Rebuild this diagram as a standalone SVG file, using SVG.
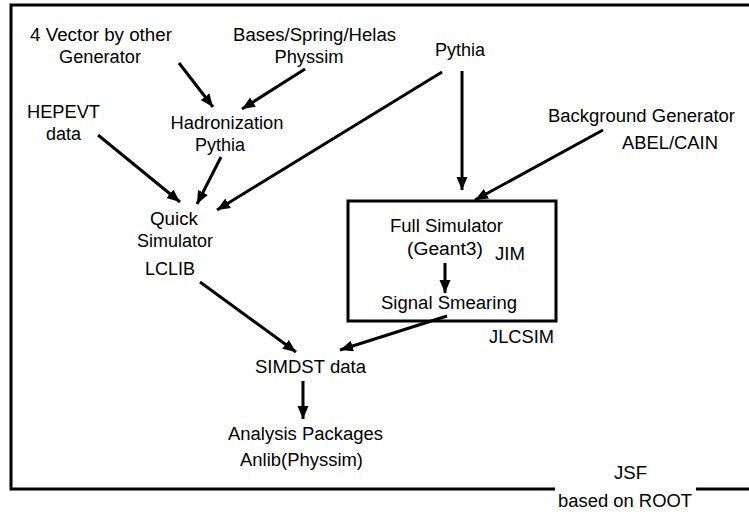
<svg xmlns="http://www.w3.org/2000/svg" width="749" height="512" viewBox="0 0 749 512">
<defs>
<style>
text{font-family:"Liberation Sans",Arial,sans-serif;font-size:18px;fill:#000;text-anchor:middle}
.frame{fill:none;stroke:#000;stroke-width:3}
.c line{stroke:#000;stroke-width:3}
</style>
<marker id="ah" markerUnits="userSpaceOnUse" markerWidth="14" markerHeight="12" refX="13" refY="5.5" orient="auto">
<path d="M0,0 L13,5.5 L0,11 z" fill="#000"/>
</marker>
</defs>
<rect width="749" height="512" fill="#fff"/>
<g id="jsf">
<path class="frame" d="M555,489 L11,489 L11,5 L752,5 M696,489 L752,489"/>
<text x="630.5" y="479" textLength="33" lengthAdjust="spacingAndGlyphs">JSF</text>
<text x="625" y="507" textLength="134" lengthAdjust="spacingAndGlyphs">based on ROOT</text>
</g>
<g id="jlcsim">
<rect class="frame" x="348" y="201" width="208" height="120"/>
<text x="521.5" y="343" textLength="65" lengthAdjust="spacingAndGlyphs">JLCSIM</text>
</g>
<g id="vector4">
<text x="101" y="41" textLength="142" lengthAdjust="spacingAndGlyphs">4 Vector by other</text>
<text x="100" y="63" textLength="82" lengthAdjust="spacingAndGlyphs">Generator</text>
</g>
<g id="bases">
<text x="314.5" y="41" textLength="163" lengthAdjust="spacingAndGlyphs">Bases/Spring/Helas</text>
<text x="309" y="63" textLength="69" lengthAdjust="spacingAndGlyphs">Physsim</text>
</g>
<g id="pythia">
<text x="460" y="56" textLength="50" lengthAdjust="spacingAndGlyphs">Pythia</text>
</g>
<g id="hepevt">
<text x="63.5" y="118" textLength="73" lengthAdjust="spacingAndGlyphs">HEPEVT</text>
<text x="63.5" y="140" textLength="35" lengthAdjust="spacingAndGlyphs">data</text>
</g>
<g id="hadronization">
<text x="227" y="129" textLength="113" lengthAdjust="spacingAndGlyphs">Hadronization</text>
<text x="220" y="151" textLength="50" lengthAdjust="spacingAndGlyphs">Pythia</text>
</g>
<g id="background">
<text x="641.5" y="122" textLength="187" lengthAdjust="spacingAndGlyphs">Background Generator</text>
<text x="670" y="149" textLength="96" lengthAdjust="spacingAndGlyphs">ABEL/CAIN</text>
</g>
<g id="quick">
<text x="174" y="225" textLength="48" lengthAdjust="spacingAndGlyphs">Quick</text>
<text x="175" y="247" textLength="76" lengthAdjust="spacingAndGlyphs">Simulator</text>
<text x="170" y="275" textLength="50" lengthAdjust="spacingAndGlyphs">LCLIB</text>
</g>
<g id="full">
<text x="446.5" y="232" textLength="113" lengthAdjust="spacingAndGlyphs">Full Simulator</text>
<text x="445" y="255" textLength="76" lengthAdjust="spacingAndGlyphs">(Geant3)</text>
<text x="510" y="260" textLength="30" lengthAdjust="spacingAndGlyphs">JIM</text>
</g>
<g id="smearing">
<text x="449" y="309" textLength="136" lengthAdjust="spacingAndGlyphs">Signal Smearing</text>
</g>
<g id="simdst">
<text x="310.5" y="373" textLength="111" lengthAdjust="spacingAndGlyphs">SIMDST data</text>
</g>
<g id="analysis">
<text x="305.5" y="440" textLength="155" lengthAdjust="spacingAndGlyphs">Analysis Packages</text>
<text x="301.5" y="466" textLength="123" lengthAdjust="spacingAndGlyphs">Anlib(Physsim)</text>
</g>
<g id="connectors" class="c">
<line x1="179" y1="63" x2="213" y2="107" marker-end="url(#ah)"/>
<line x1="305" y1="69" x2="242" y2="109" marker-end="url(#ah)"/>
<line x1="98" y1="135" x2="180" y2="202" marker-end="url(#ah)"/>
<line x1="221" y1="157" x2="197" y2="204" marker-end="url(#ah)"/>
<line x1="442" y1="72" x2="217" y2="210" marker-end="url(#ah)"/>
<line x1="462" y1="71" x2="462" y2="190" marker-end="url(#ah)"/>
<line x1="603" y1="130" x2="475" y2="200" marker-end="url(#ah)"/>
<line x1="445" y1="263" x2="445" y2="293" marker-end="url(#ah)"/>
<line x1="200" y1="282" x2="296" y2="352" marker-end="url(#ah)"/>
<line x1="447" y1="316" x2="340" y2="350" marker-end="url(#ah)"/>
<line x1="303" y1="381" x2="303" y2="419" marker-end="url(#ah)"/>
</g>
</svg>
